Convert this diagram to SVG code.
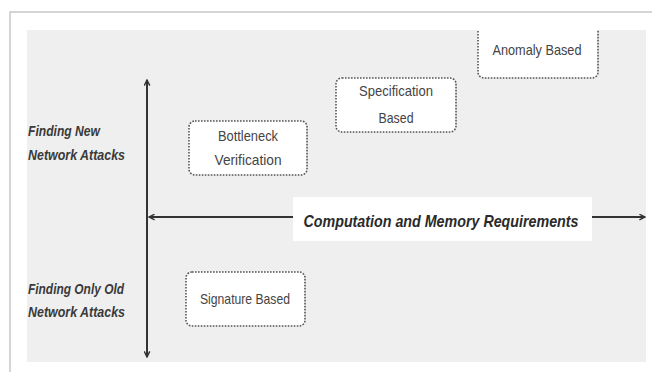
<svg xmlns="http://www.w3.org/2000/svg" width="660" height="378" viewBox="0 0 660 378">
  <style>
    .frame { fill: none; stroke: #c8c8c8; stroke-width: 1.5; }
    .panel { fill: #efefef; stroke: none; }
    .axis { stroke: #333333; stroke-width: 2; fill: none; }
    .box { fill: #ffffff; stroke: #555555; stroke-width: 1.6; stroke-dasharray: 1.6 1.4; }
    .boxtext { font-family: "Liberation Sans", Arial, sans-serif; font-size: 15px; fill: #444444; text-anchor: middle; }
    .side { font-family: "Liberation Sans", Arial, sans-serif; font-size: 15px; font-weight: bold; font-style: italic; fill: #3a3a3a; }
    .axislabel { font-family: "Liberation Sans", Arial, sans-serif; font-size: 17px; font-weight: bold; font-style: italic; fill: #2a2a2a; text-anchor: middle; }
  </style>
  <defs>
    <marker id="arrow" viewBox="0 0 10 10" refX="9" refY="5" markerWidth="7" markerHeight="7" markerUnits="userSpaceOnUse" orient="auto-start-reverse">
      <path d="M1,1 L9,5 L1,9" fill="none" stroke="#333333" stroke-width="2"/>
    </marker>
    <clipPath id="panelClip">
      <rect x="27" y="30" width="619" height="332"/>
    </clipPath>
  </defs>

  <!-- outer frame and grey panel -->
  <rect width="660" height="378" fill="#ffffff"/>
  <path class="frame" d="M10,372 L10,12 L652,12"/>
  <rect class="panel" x="27" y="30" width="619" height="332"/>

  <!-- axes -->
  <g id="connectors">
    <line class="axis" x1="147" y1="357" x2="147" y2="80" marker-start="url(#arrow)" marker-end="url(#arrow)"/>
    <line class="axis" x1="149" y1="217" x2="645" y2="217" marker-start="url(#arrow)" marker-end="url(#arrow)"/>
  </g>

  <!-- horizontal axis label -->
  <g id="axis-label">
    <rect x="293" y="197" width="299" height="44" fill="#ffffff"/>
    <text class="axislabel" x="441" y="227" textLength="275" lengthAdjust="spacingAndGlyphs">Computation and Memory Requirements</text>
  </g>

  <!-- vertical axis labels -->
  <g id="label-new">
    <text class="side" x="28" y="136" textLength="72" lengthAdjust="spacingAndGlyphs">Finding New</text>
    <text class="side" x="28" y="160" textLength="97" lengthAdjust="spacingAndGlyphs">Network Attacks</text>
  </g>
  <g id="label-old">
    <text class="side" x="28" y="294" textLength="96" lengthAdjust="spacingAndGlyphs">Finding Only Old</text>
    <text class="side" x="28" y="317" textLength="97" lengthAdjust="spacingAndGlyphs">Network Attacks</text>
  </g>

  <!-- technique boxes -->
  <g id="bottleneck">
    <rect class="box" x="189" y="121" width="118" height="54" rx="6"/>
    <text class="boxtext" x="248" y="141" textLength="60" lengthAdjust="spacingAndGlyphs">Bottleneck</text>
    <text class="boxtext" x="248" y="165" textLength="67" lengthAdjust="spacingAndGlyphs">Verification</text>
  </g>
  <g id="specification">
    <rect class="box" x="336" y="78" width="120" height="54" rx="6"/>
    <text class="boxtext" x="396" y="96" textLength="74" lengthAdjust="spacingAndGlyphs">Specification</text>
    <text class="boxtext" x="396" y="123" textLength="35" lengthAdjust="spacingAndGlyphs">Based</text>
  </g>
  <g id="anomaly">
    <rect class="box" x="478" y="10" width="120" height="68" rx="6" clip-path="url(#panelClip)"/>
    <text class="boxtext" x="537" y="55" textLength="89" lengthAdjust="spacingAndGlyphs">Anomaly Based</text>
  </g>
  <g id="signature">
    <rect class="box" x="186" y="272" width="119" height="54" rx="6"/>
    <text class="boxtext" x="245" y="304" textLength="90" lengthAdjust="spacingAndGlyphs">Signature Based</text>
  </g>
</svg>
